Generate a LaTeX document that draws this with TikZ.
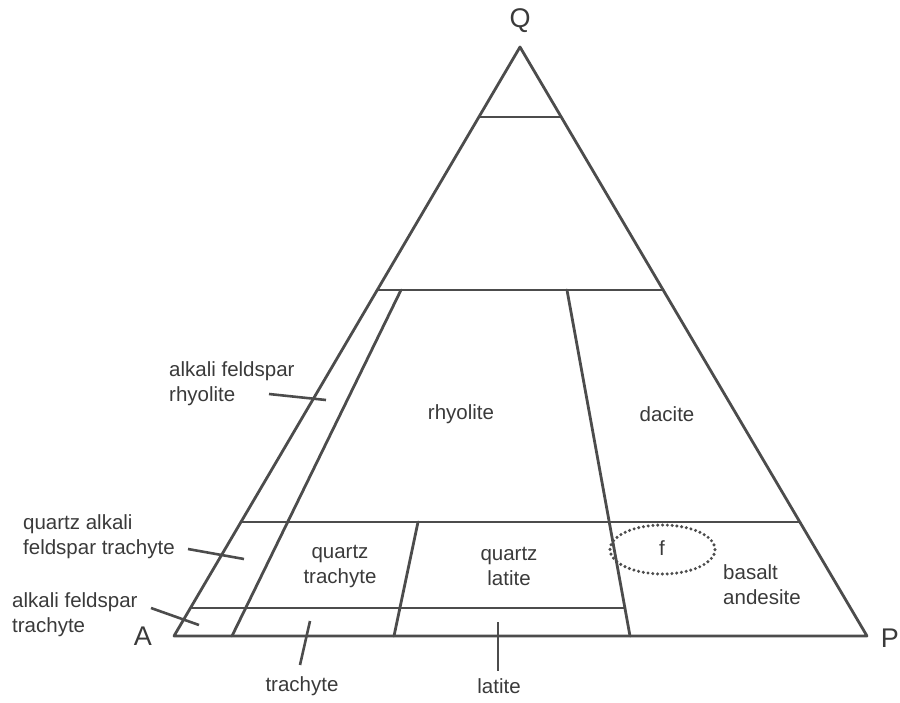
\documentclass[tikz,border=0pt]{standalone}
\usepackage{fontspec}
\setmainfont{Liberation Sans}
\usetikzlibrary{shapes.geometric}
\definecolor{linegray}{HTML}{4C4C4C}
\definecolor{textgray}{HTML}{3A3A3A}
\begin{document}
\begin{tikzpicture}[x=1pt,y=-1pt,
  edge/.style={draw=linegray,line width=2.8pt,line cap=round,line join=round},
  leader/.style={draw=linegray,line width=2.6pt},
  lbl/.style={text=textgray,font=\fontsize{20.5}{25}\selectfont,inner sep=0pt,align=center},
  lbll/.style={lbl,align=left,anchor=west},
  corner/.style={text=textgray,font=\fontsize{27}{30}\selectfont,inner sep=0pt},
  dotring/.style={draw=linegray,line width=3.4pt,line cap=round,dash pattern=on 0pt off 4.8pt}]
\useasboundingbox (0,0) rectangle (900,702);
% vertices
\coordinate (A) at (174,636);
\coordinate (P) at (867,636);
\coordinate (Q) at (520,47);
% horizontal boundaries
\coordinate (h90l) at (478.9,117);
\coordinate (h90r) at (561.2,117);
\coordinate (h60l) at (377.2,290);
\coordinate (h60r) at (663.2,290);
\coordinate (h20l) at (241,522);
\coordinate (h20r) at (799.8,522);
\coordinate (h5l) at (190.4,608);
\coordinate (h5r) at (625,608);
% inclined boundaries
\coordinate (i10t) at (401,290);
\coordinate (i10b) at (232,636);
\coordinate (i35t) at (418,522);
\coordinate (i35b) at (394,636);
\coordinate (i65t) at (567,290);
\coordinate (i65b) at (630,636);
% triangle and fields
\draw[edge] (A) -- (Q) -- (P) -- cycle;
\draw[edge] (h90l) -- (h90r);
\draw[edge] (h60l) -- (h60r);
\draw[edge] (h20l) -- (h20r);
\draw[edge] (h5l) -- (h5r);
\draw[edge] (i10t) -- (i10b);
\draw[edge] (i35t) -- (i35b);
\draw[edge] (i65t) -- (i65b);
% corner labels
\node[corner] (qlab) at (520,21) {Q};
\node[corner] (alab) at (143,636) {A};
\node[corner,anchor=east] (plab) at (899,638) {P};
% field labels
\node[lbl] (rhy) at (461,414) {rhyolite};
\node[lbl] (dac) at (667,414) {dacite};
\node[lbl] (qtr) at (340,566) {quartz\\trachyte};
\node[lbl] (qla) at (509,566) {quartz\\latite};
\node[lbll] (bas) at (723,585) {basalt\\andesite};
\node[lbll] (afr) at (169,384) {alkali feldspar\\rhyolite};
\node[lbll] (qaft) at (23,537) {quartz alkali\\feldspar trachyte};
\node[lbll] (aft) at (12,615) {alkali feldspar\\trachyte};
\node[lbl] (tra) at (302,686) {trachyte};
\node[lbl] (lat) at (499,686) {latite};
% leaders
\coordinate (l1a) at (269,394); \coordinate (l1b) at (326,400);
\coordinate (l2a) at (188,549); \coordinate (l2b) at (244,559);
\coordinate (l3a) at (151,608); \coordinate (l3b) at (199,625);
\coordinate (l4a) at (310,621); \coordinate (l4b) at (300,665);
\coordinate (l5a) at (498,622); \coordinate (l5b) at (498,671);
\draw[leader] (l1a) -- (l1b);
\draw[leader] (l2a) -- (l2b);
\draw[leader] (l3a) -- (l3b);
\draw[leader] (l4a) -- (l4b);
\draw[leader] (l5a) -- (l5b);
% field f
\node[dotring,ellipse,minimum width=105pt,minimum height=49pt,inner sep=0pt] (fring) at (662.5,549.5) {};
\node[lbl] (flab) at (662,548) {f};
\end{tikzpicture}
\end{document}
